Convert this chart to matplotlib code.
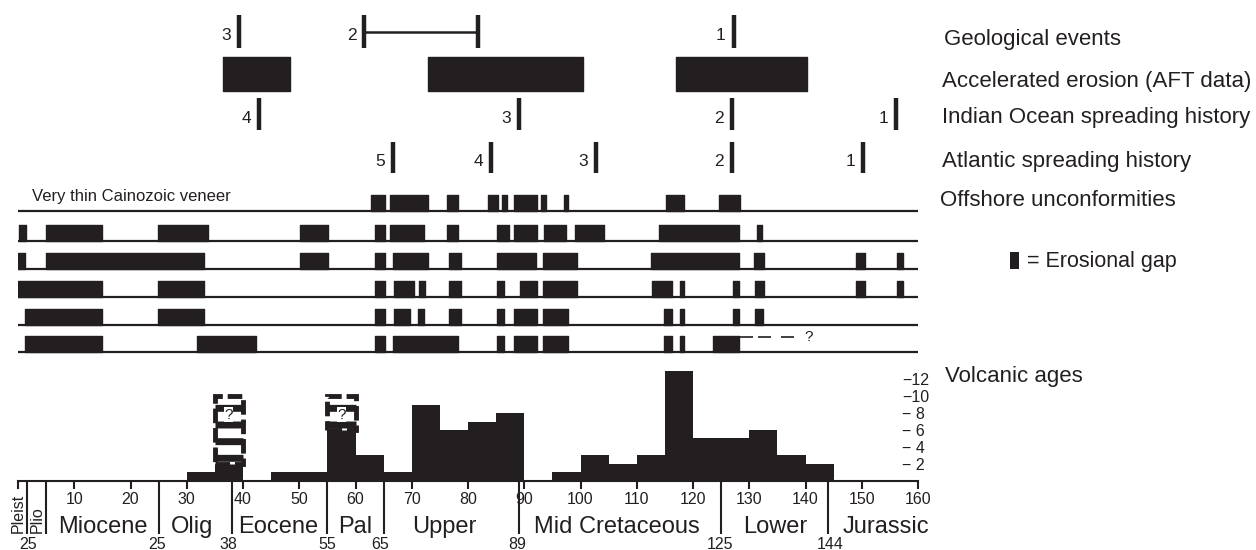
import matplotlib
matplotlib.use("Agg")
import matplotlib.pyplot as plt
from matplotlib.patches import Rectangle

plt.rcParams['font.family'] = ['Liberation Sans', 'DejaVu Sans']
plt.rcParams['hatch.linewidth'] = 5.0
C = '#231f20'

# ---------------- data ----------------
# Geological events (Ma); event 2 spans a range
geo_labels = ['3', '2', '1']
geo_start = [39.3, 61.5, 127.2]
geo_end = [39.3, 81.7, 127.2]

# Accelerated erosion (AFT data)
aft_start = [36.5, 72.9, 117.0]
aft_end = [48.4, 100.5, 140.2]

# Spreading histories
indian_labels = ['4', '3', '2', '1']
indian_ages = [42.8, 89.0, 126.9, 156.1]
atlantic_labels = ['5', '4', '3', '2', '1']
atlantic_ages = [66.6, 84.1, 102.7, 126.9, 150.3]

# Offshore unconformities: erosional gaps (start, end) per section
row1_gaps = [(62.8, 65.2), (66.1, 72.9), (76.2, 78.3), (83.5, 85.4), (86.0, 87.0),
             (88.2, 92.2), (93.0, 93.9), (97.1, 97.8), (115.2, 118.4), (124.7, 128.4)]
row2_gaps = [(0.2, 1.4), (5.0, 14.9), (24.9, 33.7), (50.1, 55.1), (63.5, 65.2),
             (66.1, 72.2), (76.2, 78.3), (85.1, 87.2), (88.2, 92.2), (93.5, 97.4),
             (99.1, 104.2), (114.0, 128.2), (131.3, 132.2)]
row3_gaps = [(0.0, 1.2), (5.0, 33.1), (50.1, 55.1), (63.5, 65.2), (66.7, 72.8),
             (76.6, 78.7), (85.1, 92.1), (93.3, 99.3), (112.5, 128.2), (130.9, 132.7),
             (149.0, 150.6), (156.2, 157.4)]
row4_gaps = [(0.0, 14.9), (24.8, 33.1), (63.5, 65.2), (66.9, 70.4), (71.2, 72.4),
             (76.6, 78.7), (85.2, 86.4), (89.2, 92.2), (93.4, 99.3), (112.7, 116.2),
             (117.7, 118.4), (127.1, 128.1), (131.0, 132.7), (149.0, 150.6), (156.2, 157.4)]
row5_gaps = [(1.2, 14.9), (24.8, 33.1), (63.5, 65.2), (66.9, 69.7), (71.1, 72.2),
             (76.6, 78.7), (85.2, 86.4), (88.1, 92.2), (93.4, 97.8), (114.9, 116.2),
             (117.7, 118.4), (127.1, 128.1), (131.0, 132.4)]
row6_gaps = [(1.2, 14.9), (31.9, 42.3), (63.5, 65.2), (66.7, 78.3), (85.2, 86.4),
             (88.1, 92.2), (93.4, 97.8), (114.9, 116.2), (117.7, 118.4), (123.6, 128.2)]
row6_uncertain = [(128.2, 130.7), (131.6, 133.9), (135.6, 138.0)]
row6_question_age = 140.5

# Volcanic ages histogram (5 Myr bins)
bin_left = list(range(0, 160, 5))
volcanic_counts = [0, 0, 0, 0, 0, 0, 1, 2, 0, 1, 1, 6, 3, 1, 9, 6,
                   7, 8, 0, 1, 3, 2, 3, 13, 5, 5, 6, 3, 2, 0, 0, 0]
uncertain_bins = [35, 55]
uncertain_bottom = [2, 6]
uncertain_top = [10, 10]

# Axis ticks / labels
major_ticks = list(range(0, 161, 10))
major_labels = [''] + [str(v) for v in range(10, 161, 10)]
boundary_ages = [1.6, 5, 25, 38, 55, 65, 89, 125, 144]
boundary_num_labels = ['25', '25', '38', '55', '65', '89', '125', '144']
boundary_num_ages = [1.8, 24.7, 37.4, 54.9, 64.4, 88.7, 124.8, 144.4]
epoch_names = ['Miocene', 'Olig', 'Eocene', 'Pal', 'Upper', 'Mid Cretaceous', 'Lower', 'Jurassic']
epoch_ages = [15.0, 31.0, 46.2, 60.0, 75.7, 106.4, 134.6, 154.3]
small_epochs = ['Pleist', 'Plio']
small_epoch_ages = [0.1, 3.5]
hist_ticks = [12, 10, 8, 6, 4, 2]
hist_tick_labels = ['\u221212', '\u221210', '\u2212 8', '\u2212 6', '\u2212 4', '\u2212 2']

# ---------------- figure ----------------
W, H = 1256, 550
fig = plt.figure(figsize=(W / 100, H / 100), dpi=100)

X0, XW = 18, 900
ax = fig.add_axes([X0 / W, 1 - 365 / H, XW / W, 365 / H])
ax.set_xlim(0, 160)
ax.set_ylim(365, 0)
ax.axis('off')

def numlabel(a, text, ybase):
    ax.annotate(text, (a, ybase), xytext=(-5.5, 0), textcoords='offset points',
                ha='right', va='baseline', fontsize=12.5, color=C)

# Geological events
ev_top, ev_bot = 15, 47.7
for lab, s, e in zip(geo_labels, geo_start, geo_end):
    ax.vlines([s], ev_top, ev_bot, color=C, lw=3.2)
    if e > s:
        ax.vlines([e], ev_top, ev_bot, color=C, lw=3.2)
        ax.hlines(32.3, s, e, color=C, lw=1.8)
    numlabel(s, lab, ev_bot - 7.5)

# AFT erosion blocks
ax.broken_barh([(s, e - s) for s, e in zip(aft_start, aft_end)], (56.7, 34), color=C)

# Indian Ocean
for lab, a in zip(indian_labels, indian_ages):
    ax.vlines([a], 98, 130, color=C, lw=3.2)
    numlabel(a, lab, 130 - 7)

# Atlantic
for lab, a in zip(atlantic_labels, atlantic_ages):
    ax.vlines([a], 141.7, 173.3, color=C, lw=3.2)
    numlabel(a, lab, 173.3 - 7)

# Offshore unconformities
rows = [row1_gaps, row2_gaps, row3_gaps, row4_gaps, row5_gaps, row6_gaps]
row_base = [210.7, 240.7, 269.0, 296.7, 325.0, 352.3]
blk_h = 16
for gaps, yb in zip(rows, row_base):
    ax.hlines(yb, 0, 160, color=C, lw=1.6)
    ax.broken_barh([(s, e - s) for s, e in gaps], (yb - blk_h, blk_h), color=C)
for s, e in row6_uncertain:
    ax.hlines(row_base[5] - 15.6, s, e, color=C, lw=1.2)
ax.text(row6_question_age, row_base[5] - 15.6, '?', ha='center', va='center',
        fontsize=11, color=C)
ax.text(2.4, 201, 'Very thin Cainozoic veneer', ha='left', va='baseline',
        fontsize=12, color=C)

# ---------------- histogram ----------------
scale = 8.45
base_px = 480.7
axh = fig.add_axes([X0 / W, 1 - base_px / H, XW / W, (base_px - 365) / H])
axh.set_xlim(0, 160)
axh.set_ylim(0, (base_px - 365) / scale)
axh.bar(bin_left, volcanic_counts, width=5, align='edge', color=C, linewidth=0)
for b, lo, hi in zip(uncertain_bins, uncertain_bottom, uncertain_top):
    axh.bar(b, hi - lo, bottom=lo, width=5, align='edge', facecolor='white',
            edgecolor=C, hatch='-', linewidth=3.5, linestyle=(0, (3, 1)))
    axh.text(b + 2.5, 7.8, '?', ha='center', va='center', fontsize=11, color=C,
             bbox=dict(facecolor='white', edgecolor='none', pad=0.2))

for sp in ['top', 'left', 'right']:
    axh.spines[sp].set_visible(False)
axh.spines['bottom'].set_linewidth(1.5)
axh.spines['bottom'].set_color(C)
axh.set_xticks(major_ticks)
axh.set_xticklabels(major_labels)
axh.set_xticks(boundary_ages, minor=True)
axh.tick_params(axis='x', which='major', length=6, width=1.5, color=C,
                labelsize=11.5, labelcolor=C, pad=2)
axh.tick_params(axis='x', which='minor', length=38, width=1.5, color=C)

axh.yaxis.tick_right()
axh.set_yticks(hist_ticks)
axh.set_yticklabels(hist_tick_labels)
axh.tick_params(axis='y', length=0, pad=-11.5, labelsize=11.5, labelcolor=C)
for t in axh.get_yticklabels():
    t.set_horizontalalignment('left')

def ydat(px):
    return (base_px - px) / scale

for name, a in zip(epoch_names, epoch_ages):
    axh.text(a, ydat(533.3), name, ha='center', va='baseline', fontsize=17,
             color=C, clip_on=False)
for lab, a in zip(boundary_num_labels, boundary_num_ages):
    axh.text(a, ydat(549), lab, ha='center', va='baseline', fontsize=11.5,
             color=C, clip_on=False)
for name, a in zip(small_epochs, small_epoch_ages):
    axh.text(a, ydat(533), name, rotation=90, ha='center', va='bottom',
             fontsize=11.5, color=C, clip_on=False)

# ---------------- right-hand labels ----------------
def ftext(px, py, s, **kw):
    fig.text(px / W, 1 - py / H, s, ha='left', va='baseline', color=C, **kw)

ftext(944, 45, 'Geological events', fontsize=16)
ftext(941.7, 87.3, 'Accelerated erosion (AFT data)', fontsize=16)
ftext(941.7, 123.3, 'Indian Ocean spreading history', fontsize=16)
ftext(941.7, 166.7, 'Atlantic spreading history', fontsize=16)
ftext(940, 206, 'Offshore unconformities', fontsize=16)
ftext(945, 382.3, 'Volcanic ages', fontsize=16)
fig.add_artist(Rectangle((1010 / W, 1 - 269.3 / H), 9.3 / W, 17.6 / H,
                         transform=fig.transFigure, facecolor=C, edgecolor='none'))
ftext(1026.7, 267.3, '= Erosional gap', fontsize=15.5)

fig.savefig('out.png', dpi=100)
